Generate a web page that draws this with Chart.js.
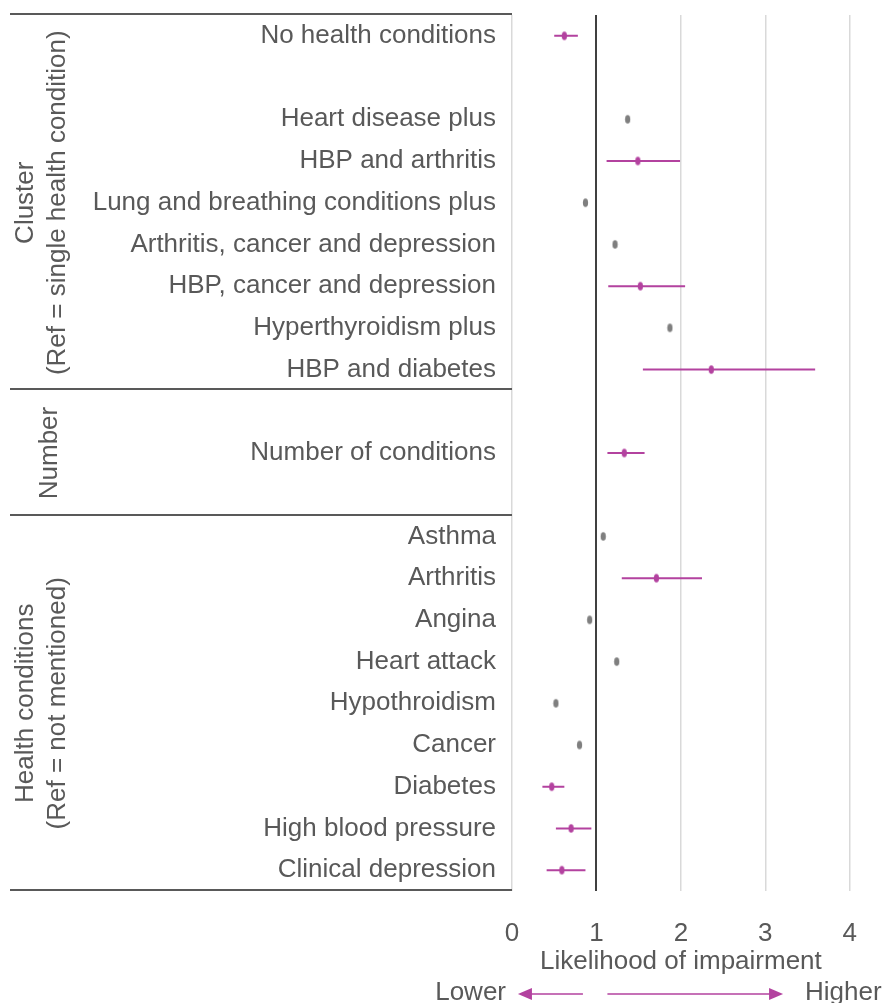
<!DOCTYPE html>
<html>
<head>
<meta charset="utf-8">
<script src="https://cdn.jsdelivr.net/npm/chart.js@4/dist/chart.umd.min.js"></script>
<style>
  html, body { margin: 0; padding: 0; background: #fff; }
  #wrap { width: 884px; height: 1003px; position: relative; }
</style>
</head>
<body>
<div id="wrap"><canvas id="cForest"></canvas></div>
<script>
// rows top to bottom, '' = spacer row
const labels = [
  'No health conditions', '',
  'Heart disease plus', 'HBP and arthritis', 'Lung and breathing conditions plus',
  'Arthritis, cancer and depression', 'HBP, cancer and depression',
  'Hyperthyroidism plus', 'HBP and diabetes', '',
  'Number of conditions', '',
  'Asthma', 'Arthritis', 'Angina', 'Heart attack', 'Hypothroidism',
  'Cancer', 'Diabetes', 'High blood pressure', 'Clinical depression'
]

const estimate = [0.62, null, 1.37, 1.49, 0.87, 1.22, 1.52, 1.87, 2.36, null, 1.33, null,
  1.08, 1.71, 0.92, 1.24, 0.52, 0.80, 0.47, 0.70, 0.59]
// confidence interval (only shown for significant results)
const ciLow = [0.50, null, null, 1.12, null, null, 1.14, null, 1.55, null, 1.13, null,
  null, 1.30, null, null, null, null, 0.36, 0.52, 0.41]
const ciHigh = [0.78, null, null, 1.99, null, null, 2.05, null, 3.59, null, 1.57, null,
  null, 2.25, null, null, null, null, 0.62, 0.94, 0.87]

const xTicks = [0, 1, 2, 3, 4]

// groups: first row, last row, title lines
const groups = [
  { from: 0, to: 8, title: ['Cluster', '(Ref = single health condition)'] },
  { from: 9, to: 11, title: ['Number'] },
  { from: 12, to: 20, title: ['Health conditions', '(Ref = not mentioned)'] }
]

const MAGENTA = '#b3429f'
const GREY = '#7f7f7f'
const TEXT = '#595959'
const FONT = "'Liberation Sans', Arial, sans-serif"

// small upright ellipse marker
function ellipseMarker(color){
  const c = document.createElement('canvas')
  c.width = 7; c.height = 11
  const g = c.getContext('2d')
  g.fillStyle = color
  g.beginPath()
  g.ellipse(3.5, 5.5, 2.6, 4.3, 0, 0, Math.PI * 2)
  g.fill()
  return c
}

const sigPts = []
const nsPts = []
const ciPts = []
estimate.forEach((v, i) => {
  if (v === null) return
  if (ciLow[i] !== null) {
    sigPts.push({ x: v, y: i })
    ciPts.push({ x: ciLow[i], y: i }, { x: ciHigh[i], y: i }, { x: null, y: null })
  } else {
    nsPts.push({ x: v, y: i })
  }
})

const extras = {
  id: 'extras',
  afterDraw(chart){
    const ctx = chart.ctx
    const ys = chart.scales.y
    const xs = chart.scales.x
    const left = chart.chartArea.left
    ctx.save()

    // separator lines between groups
    ctx.strokeStyle = TEXT
    ctx.lineWidth = 2
    const cuts = [-0.5, 8.5, 11.5, 20.5]
    for (const c of cuts) {
      const y = Math.round(ys.getPixelForValue(c)) - 1
      ctx.beginPath()
      ctx.moveTo(10, y)
      ctx.lineTo(left, y)
      ctx.stroke()
    }

    // rotated group titles
    ctx.fillStyle = TEXT
    ctx.font = `26px ${FONT}`
    ctx.textAlign = 'center'
    ctx.textBaseline = 'middle'
    for (const g of groups) {
      const yMid = (ys.getPixelForValue(g.from - 0.5) + ys.getPixelForValue(g.to + 0.5)) / 2
      const xs0 = g.title.length === 1 ? [50] : [26, 58]
      g.title.forEach((t, k) => {
        ctx.save()
        ctx.translate(xs0[k], yMid)
        ctx.rotate(-Math.PI / 2)
        ctx.fillText(t, 0, 0)
        ctx.restore()
      })
    }

    // Lower / Higher arrows under the axis
    const yA = 994
    ctx.textAlign = 'right'
    ctx.fillText('Lower', 506, yA - 1)
    ctx.textAlign = 'left'
    ctx.fillText('Higher', 805, yA - 1)

    ctx.strokeStyle = MAGENTA
    ctx.fillStyle = MAGENTA
    ctx.lineWidth = 1.5
    const a1 = xs.getPixelForValue(0.84), a1t = xs.getPixelForValue(0.07)
    const a2 = xs.getPixelForValue(1.13), a2t = xs.getPixelForValue(3.21)
    ctx.beginPath(); ctx.moveTo(a1, yA); ctx.lineTo(a1t + 10, yA); ctx.stroke()
    ctx.beginPath(); ctx.moveTo(a1t, yA); ctx.lineTo(a1t + 14, yA - 6); ctx.lineTo(a1t + 14, yA + 6); ctx.closePath(); ctx.fill()
    ctx.beginPath(); ctx.moveTo(a2, yA); ctx.lineTo(a2t - 10, yA); ctx.stroke()
    ctx.beginPath(); ctx.moveTo(a2t, yA); ctx.lineTo(a2t - 14, yA - 6); ctx.lineTo(a2t - 14, yA + 6); ctx.closePath(); ctx.fill()

    ctx.restore()
  }
}

const cForest = new Chart(document.querySelector('#cForest'), {
  type: 'scatter',
  data: {
    datasets: [{
      label: 'significant',
      data: sigPts,
      pointStyle: ellipseMarker(MAGENTA),
      order: 1
    }, {
      label: 'not significant',
      data: nsPts,
      pointStyle: ellipseMarker(GREY),
      order: 1
    }, {
      label: 'ci',
      data: ciPts,
      showLine: true,
      spanGaps: false,
      borderColor: MAGENTA,
      borderWidth: 2,
      pointRadius: 0,
      order: 2
    }]
  },
  options: {
    responsive: true,
    maintainAspectRatio: false,
    animation: false,
    layout: { padding: { top: 15, right: 21, bottom: 26, left: 0 } },
    plugins: { legend: { display: false }, tooltip: { enabled: false } },
    scales: {
      x: {
        type: 'linear',
        min: 0, max: 4,
        afterBuildTicks: (s) => { s.ticks = xTicks.map(v => ({ value: v })) },
        afterFit: (s) => { s.height = 86 },
        border: { display: false },
        grid: {
          drawTicks: false,
          color: (c) => c.tick && c.tick.value === 1 ? '#404040' : '#d9d9d9',
          lineWidth: (c) => c.tick && c.tick.value === 1 ? 2 : 1.5
        },
        ticks: { color: TEXT, font: { family: FONT, size: 26 }, padding: 27 },
        title: {
          display: true,
          text: 'Likelihood of impairment',
          color: TEXT,
          font: { family: FONT, size: 26 },
          padding: { top: 0, bottom: 0 }
        }
      },
      y: {
        type: 'linear',
        reverse: true,
        min: -0.5, max: 20.5,
        afterBuildTicks: (s) => { s.ticks = labels.map((_, i) => ({ value: i })) },
        afterFit: (s) => { s.width = 512; s.paddingTop = 0; s.paddingBottom = 0 },
        border: { display: false },
        grid: { display: false, drawTicks: false },
        ticks: {
          autoSkip: false,
          padding: 16,
          color: TEXT,
          font: { family: FONT, size: 26 },
          callback: (v) => labels[v]
        }
      }
    }
  },
  plugins: [extras]
})
</script>
</body>
</html>
